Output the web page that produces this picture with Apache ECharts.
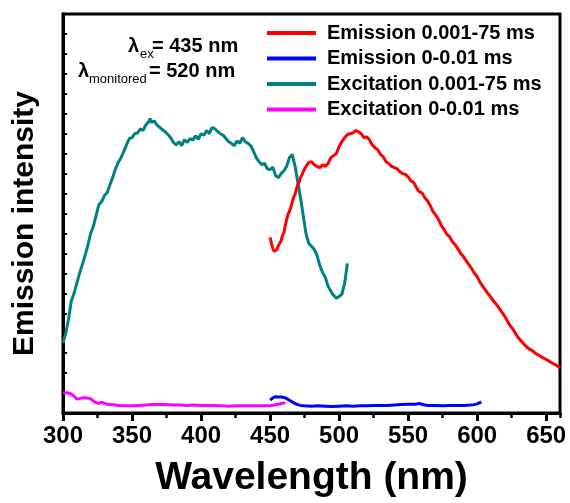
<!DOCTYPE html>
<html>
<head>
<meta charset="utf-8">
<script src="https://cdn.jsdelivr.net/npm/echarts@6/dist/echarts.min.js"></script>
<style>
  html, body { margin: 0; padding: 0; background: #fff; }
  #chart { width: 570px; height: 503px; }
</style>
</head>
<body>
<div id="chart"></div>
<script>
// Spectra: [wavelength (nm), intensity (a.u.)]
const excitationLong = [
  [300,175],[302,200],[304,235],[306,280],[308,300],[310,325],[312,350],[314,372],[316,395],[318,420],
  [320,450],[322,468],[324,495],[326,522],[328,530],[330,545],[332,552],[334,572],[336,590],[338,612],
  [340,628],[342,640],[344,655],[346,672],[348,688],[350,690],[352,700],[354,702],[356,712],[358,708],
  [360,722],[362,730],[363,738],[364,728],[366,732],[368,722],[370,716],[372,710],[374,705],[376,698],
  [378,690],[380,678],[382,672],[384,680],[386,670],[388,685],[390,678],[392,688],[394,684],[396,695],
  [398,686],[400,700],[402,696],[404,708],[406,700],[408,716],[410,712],[412,706],[414,700],[416,696],
  [418,688],[420,680],[422,676],[424,670],[426,682],[428,676],[430,690],[432,680],[434,676],[436,670],
  [438,656],[440,640],[442,630],[444,622],[446,626],[448,612],[450,610],[452,616],[454,595],[456,590],
  [458,600],[460,607],[462,618],[464,640],[466,648],[468,620],[470,580],[472,540],[474,495],[476,450],
  [478,425],[480,418],[482,410],[484,395],[486,370],[488,352],[490,340],[492,318],[494,305],[496,295],
  [498,288],[500,292],[502,298],[504,325],[506,375]
];

const emissionLong = [
  [450,440],[451,425],[452,412],[453,405],[454,407],[455,410],[456,420],[457,425],[458,432],[459,445],
  [460,452],[461,470],[462,485],[463,498],[464,505],[465,515],[466,528],[467,540],[468,548],[469,560],
  [470,572],[471,578],[472,590],[473,596],[474,605],[475,612],[476,618],[477,620],[478,628],[479,625],
  [480,630],[482,622],[484,618],[486,615],[488,622],[490,618],[492,625],[494,640],[496,645],[498,650],
  [500,668],[502,680],[504,690],[506,698],[508,700],[510,702],[512,708],[514,705],[516,700],[518,690],
  [520,692],[522,685],[524,672],[526,665],[528,660],[530,648],[532,642],[534,630],[536,625],[538,618],
  [540,615],[542,612],[544,605],[546,600],[548,598],[550,592],[552,582],[554,578],[556,565],[558,555],
  [560,552],[562,540],[564,532],[566,520],[568,505],[570,496],[572,485],[574,470],[576,460],[578,448],
  [580,442],[582,430],[584,422],[586,412],[588,400],[590,392],[592,382],[594,372],[596,362],[598,350],
  [600,342],[602,328],[604,318],[606,308],[608,298],[610,290],[612,280],[614,272],[616,262],[618,252],
  [620,242],[622,230],[624,218],[626,210],[628,198],[630,188],[632,180],[634,172],[636,165],[638,160],
  [640,156],[642,150],[644,146],[646,142],[648,138],[650,134],[652,130],[654,126],[656,122],[658,118],
  [660,113]
];

const emissionShort = [
  [450,32],[452,38],[454,41],[456,40],[458,40],[460,39],[462,36],[464,32],[466,28],[468,24],
  [470,21],[472,19],[475,18],[480,17],[485,18],[490,17],[495,16],[500,17],[505,18],[510,17],
  [515,18],[520,18],[525,19],[530,19],[535,19],[540,20],[545,21],[550,22],[555,22],[558,24],
  [560,22],[562,20],[565,19],[570,19],[575,18],[580,19],[585,19],[590,19],[595,20],[598,21],
  [600,23],[602,26],[603,28]
];

const excitationShort = [
  [300,51],[302,51],[304,50],[306,48],[308,42],[310,35],[312,36],[314,38],[316,38],[318,37],
  [320,36],[322,30],[324,26],[326,24],[328,27],[330,24],[332,22],[335,21],[338,20],[340,19],
  [345,18],[350,18],[355,19],[360,20],[365,21],[370,22],[375,21],[380,20],[385,20],[390,19],
  [395,20],[400,19],[405,19],[410,19],[415,18],[420,17],[425,18],[430,18],[435,18],[440,18],
  [445,18],[450,19],[453,20],[456,22],[458,24],[460,25],[461,27]
];

const seriesNames = ['Emission 0.001-75 ms', 'Emission 0-0.01 ms', 'Excitation 0.001-75 ms', 'Excitation 0-0.01 ms'];
const seriesColors = ['#ff0000', '#0000ff', '#008080', '#ff00ff'];
const seriesData = [emissionLong, emissionShort, excitationLong, excitationShort];

const FONT = "'Liberation Sans', Arial, Helvetica, sans-serif";

const chart = echarts.init(document.getElementById('chart'), null, { renderer: 'canvas' });

const lineSeries = seriesNames.map((name, i) => ({
  name: name,
  type: 'line',
  xAxisIndex: 0,
  yAxisIndex: 0,
  data: seriesData[i],
  symbol: 'none',
  showSymbol: false,
  smooth: false,
  animation: false,
  color: seriesColors[i],
  lineStyle: { color: seriesColors[i], width: 3 },
  z: i === 0 ? 4 : 3
}));

chart.setOption({
  backgroundColor: '#fff',
  animation: false,
  textStyle: { fontFamily: FONT },
  grid: {
    left: 63, right: 10, top: 14, bottom: 90,
    show: true, borderColor: '#000', borderWidth: 3, backgroundColor: 'transparent'
  },
  legend: {
    orient: 'vertical',
    left: 267, top: 23,
    padding: 0,
    itemGap: 5.5,
    itemWidth: 49,
    itemHeight: 4,
    icon: 'rect',
    data: seriesNames,
    selectedMode: false,
    textStyle: { fontFamily: FONT, fontSize: 20, fontWeight: 'bold', color: '#000', lineHeight: 20, padding: [0, 0, 0, 6] }
  },
  xAxis: [
    {
      type: 'value', min: 300, max: 660, interval: 50,
      position: 'bottom',
      name: 'Wavelength (nm)', nameLocation: 'middle', nameGap: 46,
      nameTextStyle: { fontFamily: FONT, fontSize: 39, fontWeight: 'bold', color: '#000' },
      axisLine: { show: true, onZero: false, lineStyle: { color: '#000', width: 3 } },
      axisTick: { show: true, inside: false, length: 8, lineStyle: { color: '#000', width: 3 } },
      axisLabel: {
        show: true, margin: 11, color: '#000', fontFamily: FONT, fontSize: 24, fontWeight: 'bold',
        showMaxLabel: false,
        formatter: v => (v % 50 === 0 ? String(v) : '')
      },
      splitLine: { show: false }
    },
    {
      // minor ticks every 25 nm
      type: 'value', min: 300, max: 660, interval: 25,
      position: 'bottom',
      axisLine: { show: false },
      axisTick: { show: true, inside: false, length: 5, lineStyle: { color: '#000', width: 2.5 } },
      axisLabel: { show: false },
      splitLine: { show: false }
    }
  ],
  yAxis: {
    type: 'value', min: 0, max: 1000, interval: 50,
    name: 'Emission intensity', nameLocation: 'middle', nameGap: 23, nameRotate: 90,
    nameTextStyle: { fontFamily: FONT, fontSize: 30, fontWeight: 'bold', color: '#000', padding: [0, 20, 0, 0] },
    axisLine: { show: true, onZero: false, lineStyle: { color: '#000', width: 3 } },
    axisTick: { show: true, inside: true, length: 4, lineStyle: { color: '#000', width: 2 } },
    axisLabel: { show: false },
    splitLine: { show: false }
  },
  graphic: [
    { type: 'text', left: 128, top: 36, z: 10, style: { text: 'λ', fill: '#000', font: `bold 20px ${FONT}` } },
    { type: 'text', left: 140, top: 48, z: 10, style: { text: 'ex', fill: '#000', font: `13px ${FONT}` } },
    { type: 'text', left: 152, top: 36, z: 10, style: { text: '= 435 nm', fill: '#000', font: `bold 20px ${FONT}` } },
    { type: 'text', left: 78, top: 61, z: 10, style: { text: 'λ', fill: '#000', font: `bold 20px ${FONT}` } },
    { type: 'text', left: 89, top: 73, z: 10, style: { text: 'monitored', fill: '#000', font: `13px ${FONT}` } },
    { type: 'text', left: 149, top: 61, z: 10, style: { text: '= 520 nm', fill: '#000', font: `bold 20px ${FONT}` } }
  ],
  series: lineSeries
});
</script>
</body>
</html>
